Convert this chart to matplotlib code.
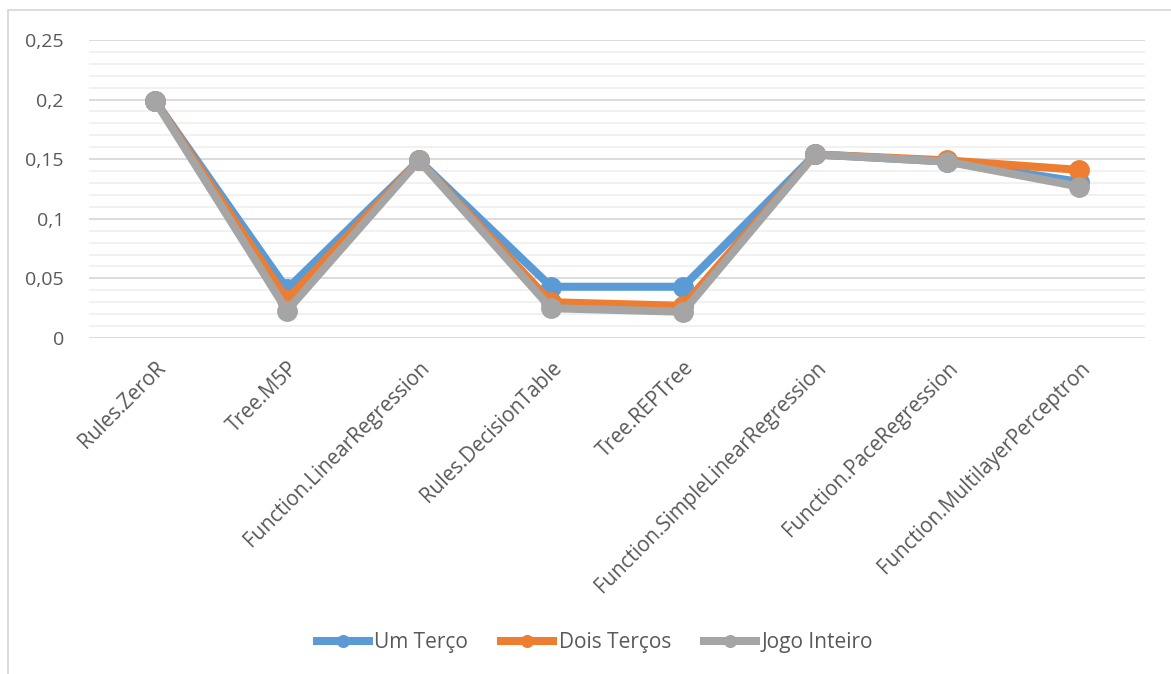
import matplotlib.pyplot as plt
from matplotlib.ticker import MultipleLocator, FuncFormatter
from matplotlib.patches import Rectangle

# results per algorithm
algoritmos = ["Rules.ZeroR", "Tree.M5P", "Function.LinearRegression",
              "Rules.DecisionTable", "Tree.REPTree",
              "Function.SimpleLinearRegression", "Function.PaceRegression",
              "Function.MultilayerPerceptron"]
um_terco = [0.199, 0.041, 0.149, 0.043, 0.043, 0.154, 0.148, 0.131]
dois_tercos = [0.199, 0.032, 0.149, 0.030, 0.027, 0.154, 0.149, 0.141]
jogo_inteiro = [0.199, 0.023, 0.149, 0.025, 0.022, 0.154, 0.148, 0.127]

series = [("Um Terço", um_terco, "#5b9bd5"),
          ("Dois Terços", dois_tercos, "#ed7d31"),
          ("Jogo Inteiro", jogo_inteiro, "#a5a5a5")]

plt.rcParams['font.family'] = ['Open Sans', 'DejaVu Sans']
txt = "#595959"

fig = plt.figure(figsize=(11.71, 6.74), dpi=100)
ax = fig.add_axes([0.076, 0.4985, 0.902, 0.4422])

x = range(len(algoritmos))
for nome, vals, cor in series:
    ax.plot(x, vals, color=cor, lw=5.8, marker='o', markersize=14,
            label=nome, solid_joinstyle='round', zorder=3)

ax.set_xlim(-0.5, len(algoritmos) - 0.5)
ax.set_ylim(0, 0.25)
ax.yaxis.set_major_locator(MultipleLocator(0.05))
ax.yaxis.set_minor_locator(MultipleLocator(0.01))
ax.yaxis.set_major_formatter(FuncFormatter(lambda v, p: ("%g" % round(v, 2)).replace(".", ",")))
ax.grid(which='major', axis='y', color='#d9d9d9', lw=1.3)
ax.grid(which='minor', axis='y', color='#f0f0f0', lw=1.3)
ax.set_axisbelow(True)

for s in ax.spines.values():
    s.set_visible(False)
ax.tick_params(which='both', length=0)
ax.tick_params(axis='y', labelsize=14, labelcolor=txt, pad=18)

ax.set_xticks(list(x))
ax.set_xticklabels(algoritmos, rotation=45, ha='right', va='top',
                   rotation_mode='anchor', fontsize=14.8, color=txt)
ax.tick_params(axis='x', pad=14)

leg = ax.legend(loc='center', bbox_to_anchor=(0.508, 0.047), bbox_transform=fig.transFigure,
                ncol=3, frameon=False, fontsize=15, handlelength=2.5,
                handletextpad=0.25, columnspacing=1.6, markerscale=0.6)
for t in leg.get_texts():
    t.set_color(txt)

# chart frame
fig.patches.append(Rectangle((8 / 1171, -0.1), 1.2, 1 - 10 / 674 + 0.1,
                             transform=fig.transFigure, fill=False,
                             edgecolor='#d9d9d9', lw=1.3))

fig.savefig("out.png", dpi=100)
